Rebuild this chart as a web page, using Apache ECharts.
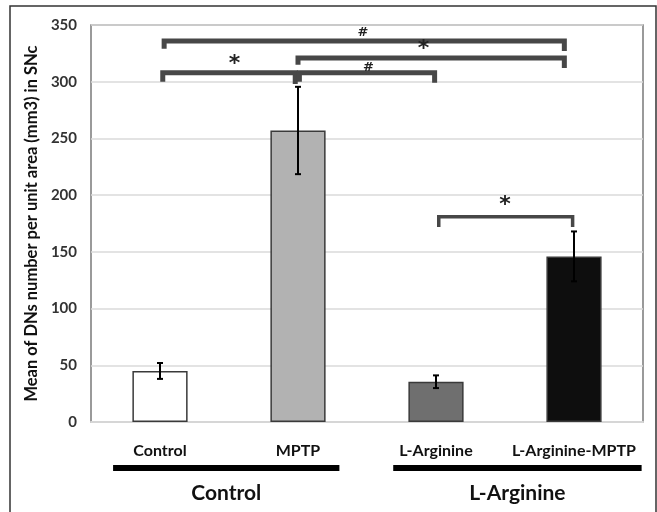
<!DOCTYPE html>
<html><head><meta charset="utf-8">
<script src="https://cdn.jsdelivr.net/npm/echarts@6/dist/echarts.min.js"></script>
<style>html,body{margin:0;padding:0;background:#fff}#c{width:657px;height:512px}</style>
</head><body><div id="c"></div>
<script>
const categories = ['Control', 'MPTP', 'L-Arginine', 'L-Arginine-MPTP'];
const means = [45, 257, 35.5, 146];
const errors = [7, 38.5, 5.6, 22];
const yTicks = [0, 50, 100, 150, 200, 250, 300, 350];
// brackets: [xStart, xEnd, yTop, yLeftEnd, yRightEnd] in axis units
const brackets = [
  [0.53, 3.43, 336, 329, 327],
  [1.50, 3.43, 321, 315, 312],
  [0.52, 1.48, 308, 300, 298],
  [1.51, 2.49, 308, 300, 299],
  [2.52, 3.49, 181, 172, 172]
];
const sigMarks = [['#', 1.97, 343], ['*', 2.41, 329], ['*', 1.04, 315], ['#', 2.01, 312], ['*', 3.00, 191]];
const groups = ['Control', 'L-Arginine'];
const groupSpans = [[0.16, 1.80], [2.19, 3.99]];

const barColors = ['#ffffff', '#b2b2b2', '#6f6f6f', '#0e0e0e'];
const FONT = 'Lato';

const chart = echarts.init(document.getElementById('c'));
const option = {
  backgroundColor: '#fff',
  animation: false,
  grid: { left: 91, right: 14, top: 25, bottom: 90, show: true, borderColor: '#7a7a7a', borderWidth: 1.5 },
  xAxis: [
    { type: 'category', data: categories, axisTick: { show: false },
      axisLine: { lineStyle: { color: '#d6d6d6', width: 2 } },
      axisLabel: { fontFamily: FONT, fontWeight: 'bold', fontSize: 16, color: '#111', margin: 21, interval: 0 } },
    { type: 'value', min: 0, max: 4, show: false }
  ],
  yAxis: {
    type: 'value', min: 0, max: 350, interval: 50,
    name: 'Mean of DNs number per unit area (mm3) in SNc',
    nameLocation: 'middle', nameGap: 47,
    nameTextStyle: { fontFamily: FONT, fontWeight: 'bold', fontSize: 16.5, color: '#111' },
    axisLine: { show: false }, axisTick: { show: false },
    axisLabel: { fontFamily: FONT, fontWeight: 'bold', fontSize: 15, color: '#333', margin: 14,
      formatter: v => yTicks.includes(v) ? String(v) : '' },
    splitLine: { lineStyle: { color: '#dadada', width: 1.5 } }
  },
  series: [
    { type: 'bar', xAxisIndex: 0, barWidth: '40%',
      data: means.map((v, i) => ({ value: v, itemStyle: { color: barColors[i] } })),
      itemStyle: { borderColor: '#3a3a3a', borderWidth: 1.5 } },
    { type: 'custom', xAxisIndex: 0, z: 5,
      data: means.map((v, i) => [i, v - errors[i], v + errors[i]]),
      renderItem: (params, api) => {
        const lo = api.coord([api.value(0), api.value(1)]);
        const hi = api.coord([api.value(0), api.value(2)]);
        const w = 3;
        const st = { stroke: '#000', lineWidth: 2 };
        return { type: 'group', children: [
          { type: 'line', shape: { x1: hi[0], y1: hi[1], x2: lo[0], y2: lo[1] }, style: st },
          { type: 'line', shape: { x1: hi[0] - w, y1: hi[1], x2: hi[0] + w, y2: hi[1] }, style: st },
          { type: 'line', shape: { x1: lo[0] - w, y1: lo[1], x2: lo[0] + w, y2: lo[1] }, style: st }
        ] };
      } },
    { type: 'custom', xAxisIndex: 1, z: 6,
      data: brackets,
      renderItem: (params, api) => {
        const x1 = api.value(0), x2 = api.value(1), yt = api.value(2), yl = api.value(3), yr = api.value(4);
        const pts = [api.coord([x1, yl]), api.coord([x1, yt]), api.coord([x2, yt]), api.coord([x2, yr])];
        return { type: 'polyline', shape: { points: pts },
          style: { stroke: '#474747', fill: null, lineWidth: params.dataIndex === 4 ? 3.5 : 5, lineJoin: 'miter' } };
      } },
    { type: 'custom', xAxisIndex: 1, z: 7,
      data: sigMarks.map(m => [m[1], m[2], m[0]]),
      renderItem: (params, api) => {
        const p = api.coord([api.value(0), api.value(1)]);
        const t = sigMarks[params.dataIndex][0];
        return { type: 'text', x: p[0], y: p[1],
          style: { text: t, fontFamily: 'DejaVu Sans', fontWeight: 'bold', fontSize: t === '*' ? 22 : 13,
            fill: '#222', align: 'center', verticalAlign: 'middle' } };
      } }
  ]
};
chart.setOption(option);

const gfx = [
  { type: 'rect', shape: { x: 10, y: 6, width: 646, height: 520 }, style: { fill: null, stroke: '#333', lineWidth: 1.5 }, silent: true }
];
groupSpans.forEach((s, i) => {
  const a = chart.convertToPixel({ xAxisIndex: 1 }, s[0]);
  const b = chart.convertToPixel({ xAxisIndex: 1 }, s[1]);
  gfx.push({ type: 'line', shape: { x1: a, y1: 468, x2: b, y2: 468 }, style: { stroke: '#000', lineWidth: 6 } });
  gfx.push({ type: 'text', x: (a + b) / 2, y: 493,
    style: { text: groups[i], fontFamily: FONT, fontWeight: 'bold', fontSize: 21, fill: '#111', align: 'center', verticalAlign: 'middle' } });
});
chart.setOption({ graphic: gfx });
</script></body></html>
